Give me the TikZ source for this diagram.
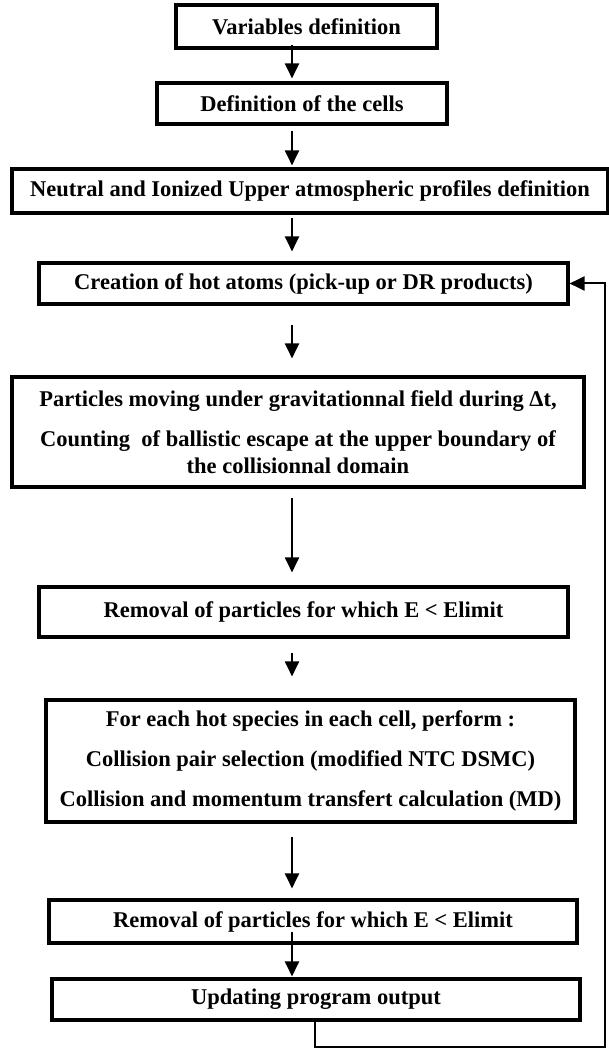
\documentclass[tikz,border=0pt]{standalone}
\usepackage{fontspec}
\setmainfont{Liberation Serif}
\usepackage{tikz}
\usetikzlibrary{arrows.meta,positioning}
\tikzstyle{stepbox} = [draw, line width=3.1pt, inner sep=0pt, align=center, font=\bfseries\fontsize{22.5}{27}\selectfont]
\tikzstyle{arrow} = [line width=2pt,-{Triangle[width=14pt,length=15pt]}]

\begin{document}
\begin{tikzpicture}[x=1pt, y=-1pt]
\useasboundingbox (0,0) rectangle (609,1048);
\coordinate (axis) at (292,0);
\coordinate (loop) at (605,1047);

% Setup
\node[stepbox, minimum width=261pt, minimum height=43pt] (vars) at (306.5,26.5) {Variables definition};
\node[stepbox, minimum width=290pt, minimum height=41pt] (cells) at (302,103.5) {Definition of the cells};
\node[stepbox, minimum width=596pt, minimum height=44pt] (profiles) at (310,191) {Neutral and Ionized Upper atmospheric profiles definition};

% Loop body
\node[stepbox, minimum width=529pt, minimum height=41pt] (creation) at (303.5,283.5) {Creation of hot atoms (pick-up or DR products)};
\node[stepbox, minimum width=572pt, minimum height=110pt] (moving) at (298,432) {Particles moving under gravitationnal field during Δt,\\[13pt] Counting~ of ballistic escape at the upper boundary of\\ the collisionnal domain};
\node[stepbox, minimum width=529pt, minimum height=50pt] (removal) at (303.5,612) {Removal of particles for which E < Elimit};
\node[stepbox, minimum width=529pt, minimum height=122pt] (collisions) at (310.5,761) {For each hot species in each cell, perform :\\[13pt] Collision pair selection (modified NTC DSMC)\\[13pt] Collision and momentum transfert calculation (MD)};
\node[stepbox, minimum width=528pt, minimum height=43pt] (removaltwo) at (313,921.5) {Removal of particles for which E < Elimit};
\node[stepbox, minimum width=528pt, minimum height=41pt] (update) at (316,999.5) {Updating program output};

% Arrows
\draw[arrow, shorten <=-5pt, shorten >=3pt] (vars.south -| axis) -- (cells.north -| axis);
\draw[arrow, shorten <=5pt, shorten >=2pt] (cells.south -| axis) -- (profiles.north -| axis);
\draw[arrow, shorten <=3pt, shorten >=10pt] (profiles.south -| axis) -- (creation.north -| axis);
\draw[arrow, shorten <=19pt, shorten >=17pt] (creation.south -| axis) -- (moving.north -| axis);
\draw[arrow, shorten <=9pt, shorten >=13pt] (moving.south -| axis) -- (removal.north -| axis);
\draw[arrow, shorten <=14pt, shorten >=22pt] (removal.south -| axis) -- (collisions.north -| axis);
\draw[arrow, shorten <=13pt, shorten >=10pt] (collisions.south -| axis) -- (removaltwo.north -| axis);
\draw[arrow, shorten <=-13pt, shorten >=1pt] (removaltwo.south -| axis) -- (update.north -| axis);

% Back to creation
\draw[arrow] (update.south -| 315,0) |- (loop) |- (creation.east);
\end{tikzpicture}
\end{document}
